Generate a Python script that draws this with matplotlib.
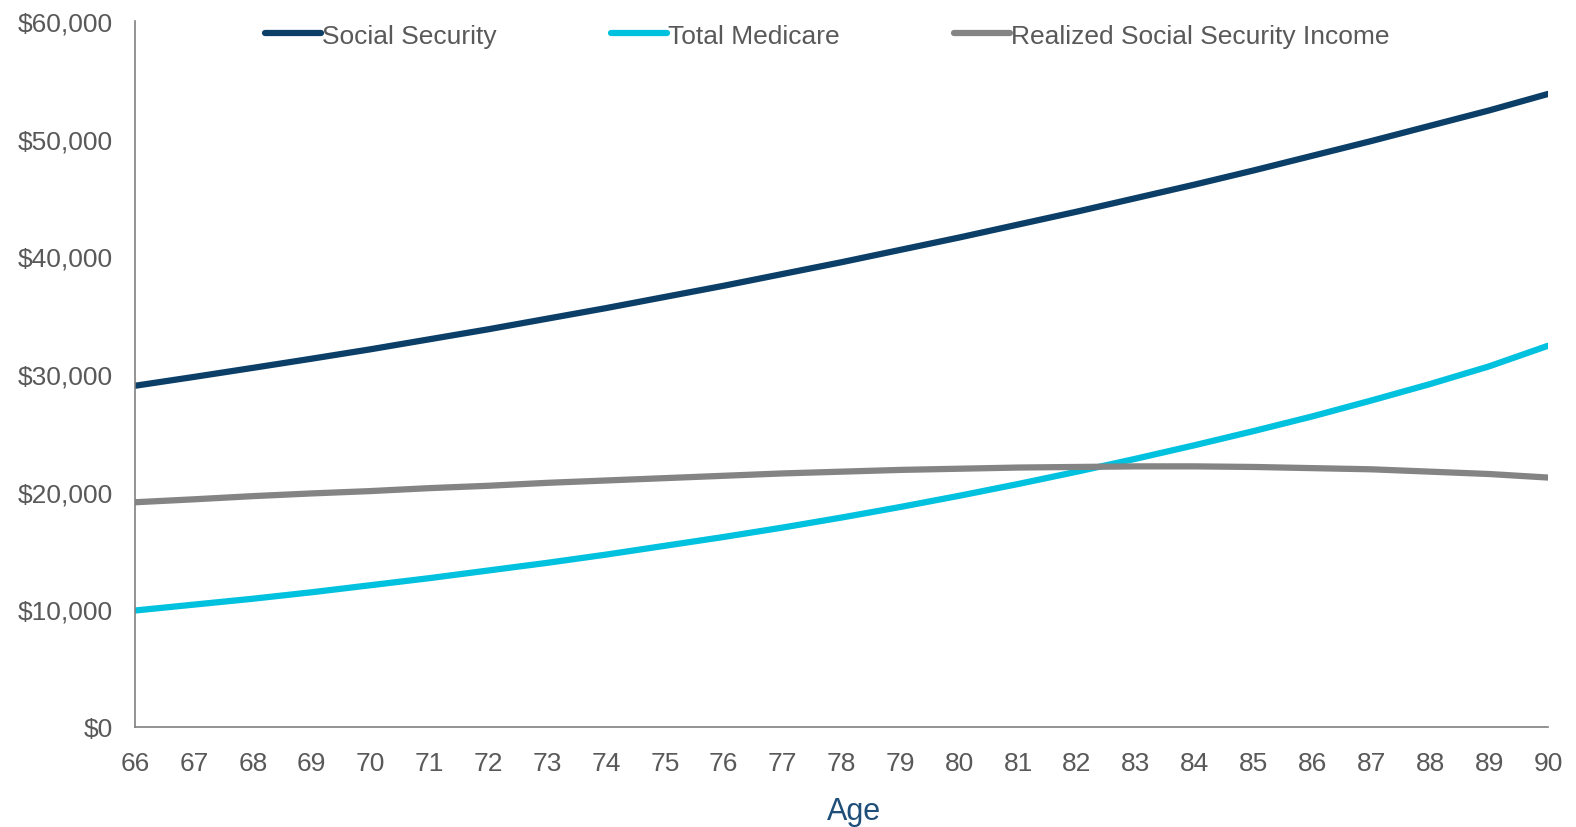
import matplotlib.pyplot as plt
from matplotlib.ticker import FuncFormatter

plt.rcParams['font.family'] = ['Liberation Sans', 'DejaVu Sans']

ages = list(range(66, 91))

socialSecurity = [29000, 29750, 30520, 31300, 32100, 32950, 33800, 34700, 35600, 36550,
                  37500, 38500, 39500, 40550, 41600, 42700, 43800, 44950, 46100, 47300,
                  48550, 49800, 51100, 52400, 53800]
totalMedicare = [9900, 10400, 10900, 11450, 12050, 12650, 13300, 13950, 14650, 15400,
                 16150, 16950, 17800, 18700, 19650, 20650, 21700, 22800, 23950, 25150,
                 26400, 27750, 29150, 30650, 32400]
realizedIncome = [19100, 19350, 19620, 19850, 20050, 20300, 20500, 20750, 20950, 21150,
                  21350, 21550, 21700, 21850, 21950, 22050, 22100, 22150, 22150, 22100,
                  22000, 21900, 21700, 21500, 21200]

textColor = '#595959'

fig = plt.figure(figsize=(15.76, 8.28), dpi=100)
ax = fig.add_axes([135 / 1576, 1 - 728 / 828, (1548 - 135) / 1576, (728 - 22) / 828])

ax.plot(ages, socialSecurity, color='#0B3F68', lw=4.5, solid_capstyle='round', label='Social Security')
ax.plot(ages, totalMedicare, color='#00C1DE', lw=4.5, solid_capstyle='round', label='Total Medicare')
ax.plot(ages, realizedIncome, color='#848484', lw=4.5, solid_capstyle='round', label='Realized Social Security Income')

ax.set_xlim(66, 90)
ax.set_ylim(0, 60000)
ax.set_xticks(ages)
ax.set_yticks(range(0, 60001, 10000))
ax.yaxis.set_major_formatter(FuncFormatter(lambda v, p: '${:,.0f}'.format(v)))
ax.tick_params(length=0, labelsize=19, colors=textColor)
ax.tick_params(axis='x', pad=17)
ax.tick_params(axis='y', pad=16)

for side in ['top', 'right']:
    ax.spines[side].set_visible(False)
for side in ['left', 'bottom']:
    ax.spines[side].set_color('#808080')
    ax.spines[side].set_linewidth(1.2)

ax.set_xlabel('Age', fontsize=22, color='#1F4E79')
ax.xaxis.set_label_coords(0.509, -0.098)

leg = ax.legend(loc='upper center', bbox_to_anchor=(0.49, 1.03), ncol=3, frameon=False,
                fontsize=19, handlelength=2.1, handletextpad=0.05, columnspacing=4.35)
for t in leg.get_texts():
    t.set_color(textColor)

fig.savefig('out.png', dpi=100)
